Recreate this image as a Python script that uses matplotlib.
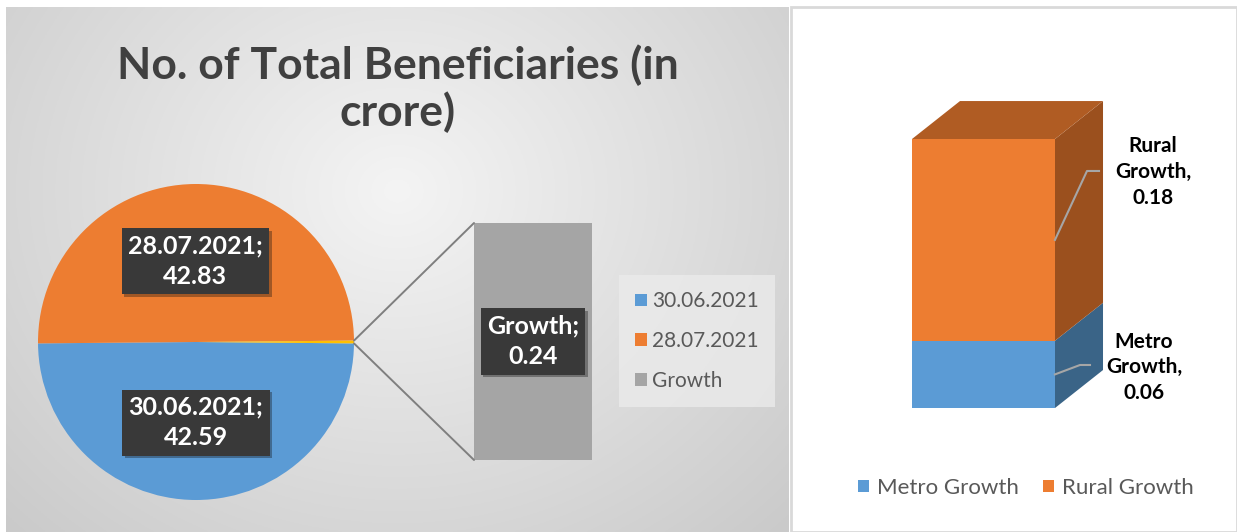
import numpy as np
import matplotlib
matplotlib.use('Agg')
import matplotlib.pyplot as plt
from matplotlib.patches import Patch, Polygon, Rectangle, ConnectionPatch
import matplotlib.patheffects as pe

plt.rcParams['font.family'] = ['Lato', 'DejaVu Sans']

# data
pie_labels = ['30.06.2021', '28.07.2021', 'Growth']
pie_values = [42.59, 42.83, 0.24]
pie_colors = ['#5B9BD5', '#ED7D31', '#FFC000']
bar_label = 'Growth'
bar_value = 0.24
bar_color = '#A5A5A5'

parts = ['Metro Growth', 'Rural Growth']
part_values = [0.06, 0.18]
part_front = ['#5B9BD5', '#ED7D31']
part_side = ['#3A6487', '#9B501E']
part_top = ['#2F5A80', '#B05C23']

title = 'No. of Total Beneficiaries (in\ncrore)'

W, H = 1237, 532
fig = plt.figure(figsize=(W / 100, H / 100), dpi=100)
fig.patch.set_facecolor('white')


def box(x0, y0, x1, y1):
    # pixel box (top-left origin) -> figure rect
    return [x0 / W, 1 - y1 / H, (x1 - x0) / W, (y1 - y0) / H]


# left panel background (radial gradient)
ax_bg = fig.add_axes(box(6, 7, 789, 532))
yy, xx = np.mgrid[0:1:300j, 0:1:400j]
d = np.sqrt(((xx - 0.5) / 0.5) ** 2 + ((yy - 0.35) / 0.65) ** 2) / np.sqrt(2)
g = (244 - 42 * d) / 255
ax_bg.imshow(np.dstack([g, g, g]), aspect='auto', extent=[0, 1, 0, 1], origin='upper')
ax_bg.set_xlim(0, 1)
ax_bg.set_ylim(0, 1)
ax_bg.axis('off')

fig.text(398 / W, 1 - 89 / H, title, ha='center', va='center', fontsize=32,
         fontweight='bold', color='#404040', linespacing=1.15)

label_kw = dict(ha='center', va='center', color='white', fontsize=18, fontweight='bold',
                linespacing=1.4,
                bbox=dict(boxstyle='square,pad=0.25', facecolor='#393939', edgecolor='none'))
shadow = [pe.SimplePatchShadow(offset=(2, -2), alpha=0.35), pe.Normal()]

# pie of bar
ax_pie = fig.add_axes(box(38, 184, 354, 500))
total = sum(pie_values)
g_ang = pie_values[2] / total * 360
wedges, _ = ax_pie.pie(pie_values, colors=pie_colors, startangle=-g_ang / 2,
                       counterclock=False, radius=1)
ax_pie.set_xlim(-1, 1)
ax_pie.set_ylim(-1, 1)
ax_pie.set_aspect('equal')
ax_pie.axis('off')
for w, lab, val in zip(wedges[:2], pie_labels[:2], pie_values[:2]):
    mid = np.deg2rad((w.theta1 + w.theta2) / 2)
    t = ax_pie.text(0.51 * np.cos(mid), 0.51 * np.sin(mid), f'{lab};\n{val:.2f}', **label_kw)
    t.get_bbox_patch().set_path_effects(shadow)

ax_bar = fig.add_axes(box(474, 223, 592, 460))
ax_bar.bar([0], [bar_value], width=1, color=bar_color)
ax_bar.set_xlim(-0.5, 0.5)
ax_bar.set_ylim(0, bar_value)
ax_bar.axis('off')
t = ax_bar.text(0, bar_value / 2, f'{bar_label};\n{bar_value:.2f}', **label_kw)
t.get_bbox_patch().set_path_effects(shadow)

gw = wedges[2]
for ang, yb in [(gw.theta2, bar_value), (gw.theta1, 0)]:
    a = np.deg2rad(ang)
    con = ConnectionPatch(xyA=(np.cos(a), np.sin(a)), coordsA=ax_pie.transData,
                          xyB=(-0.5, yb), coordsB=ax_bar.transData,
                          color='#7F7F7F', lw=1.4)
    fig.add_artist(con)

handles = [Patch(facecolor=c, edgecolor='none') for c in pie_colors[:2]] + \
          [Patch(facecolor=bar_color, edgecolor='none')]
leg = fig.legend(handles, pie_labels[:2] + [bar_label], loc='center',
                 bbox_to_anchor=(697 / W, 1 - 341 / H), fontsize=15, frameon=True,
                 fancybox=False, handlelength=0.55, handleheight=0.55, handletextpad=0.25,
                 labelspacing=0.95, borderpad=0.8, labelcolor='#595959')
leg.get_frame().set_facecolor('#EBEBEB')
leg.get_frame().set_edgecolor('none')

# right panel: 3D stacked bar
fig.add_artist(Rectangle((791 / W, 0), (W - 791) / W, (H - 7) / H, transform=fig.transFigure,
                         facecolor='white', edgecolor='#D9D9D9', lw=2, zorder=-1))
ax_r = fig.add_axes(box(793, 7, 1237, 532))
ax_r.set_xlim(-1.332, 1.773)
ax_r.set_ylim(-0.1106, 0.3578)
ax_r.axis('off')

dx, dy = 0.336, 0.0339
bottom = 0
bars = []
for name, v, fc in zip(parts, part_values, part_front):
    b = ax_r.bar(0, v, bottom=bottom, width=1, color=fc, label=name, zorder=3)
    bars.append(b[0])
    bottom += v
for rect, sc in zip(bars, part_side):
    x1 = rect.get_x() + rect.get_width()
    y0, y1 = rect.get_y(), rect.get_y() + rect.get_height()
    ax_r.add_patch(Polygon([(x1, y0), (x1 + dx, y0 + dy), (x1 + dx, y1 + dy), (x1, y1)],
                           closed=True, facecolor=sc, edgecolor='none', zorder=2))
top = bars[-1]
x0, x1 = top.get_x(), top.get_x() + top.get_width()
yt = top.get_y() + top.get_height()
ax_r.add_patch(Polygon([(x0, yt), (x0 + dx, yt + dy), (x1 + dx, yt + dy), (x1, yt)],
                       closed=True, facecolor=part_top[-1], edgecolor='none', zorder=2))

# data labels with leader lines
label_pos = [(1.122, 0.0365), (1.185, 0.2106)]
elbows = [(0.675, 0.0384, 0.745), (0.724, 0.2115, 0.808)]
for rect, name, v, (lx, ly), (ex, ey, ex2) in zip(bars, parts, part_values, label_pos, elbows):
    xr = rect.get_x() + rect.get_width()
    ym = rect.get_y() + rect.get_height() / 2
    ax_r.plot([xr, ex, ex2], [ym, ey, ey], color='#A6A6A6', lw=1.5, zorder=4)
    ax_r.text(lx, ly, name.replace(' ', '\n') + f',\n{v:.2f}', ha='center', va='center',
              fontsize=15, fontweight='bold', color='black', linespacing=1.35)

ax_r.legend(loc='center', bbox_to_anchor=(1026 / W, 1 - 488 / H),
            bbox_transform=fig.transFigure, ncol=2, frameon=False, fontsize=16,
            handlelength=0.5, handleheight=0.5, handletextpad=0.35, columnspacing=1.1,
            labelcolor='#595959')

fig.savefig('out.png', dpi=100)
